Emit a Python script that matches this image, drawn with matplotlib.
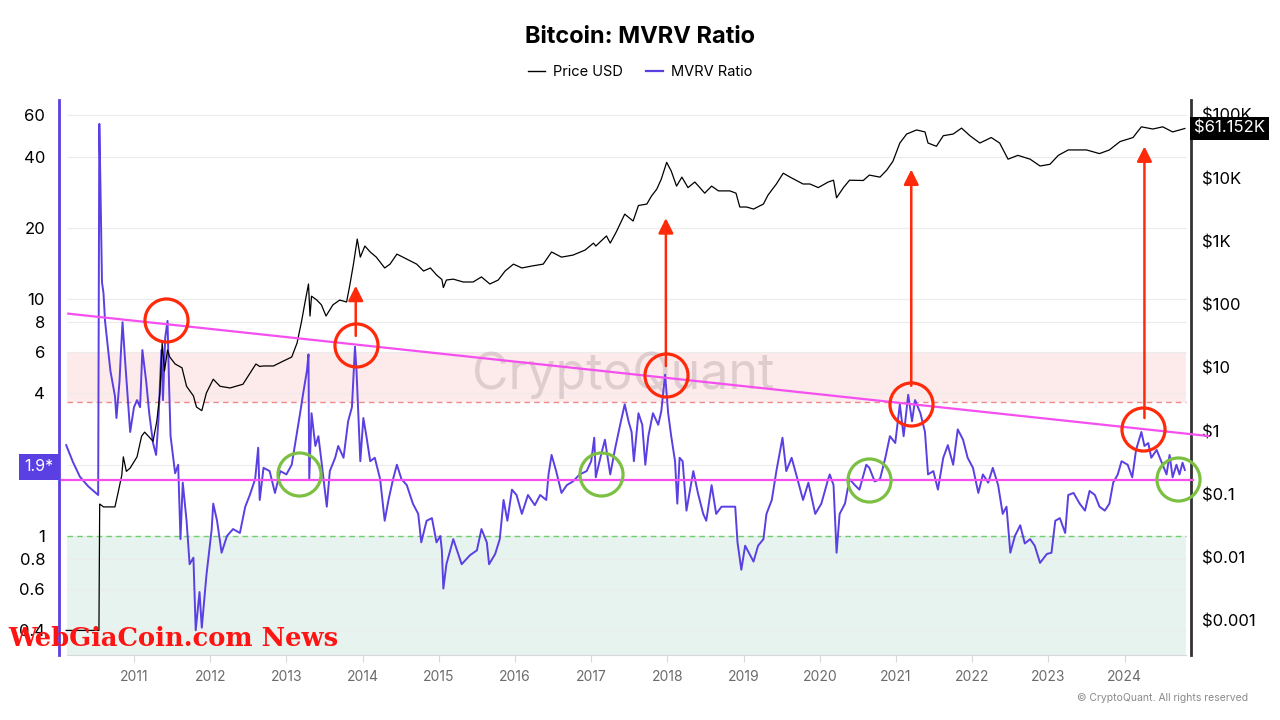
import matplotlib
matplotlib.use("Agg")
import matplotlib.pyplot as plt
from matplotlib.lines import Line2D

plt.rcParams['font.family'] = ['Inter', 'DejaVu Sans']

# MVRV ratio (decimal year, value)
mvrv_years = [
    2010.11, 2010.20, 2010.29, 2010.40, 2010.53, 2010.545, 2010.56, 2010.58, 2010.60, 2010.62,
    2010.69, 2010.75, 2010.77, 2010.81, 2010.83, 2010.85, 2010.88, 2010.93, 2010.95, 2011.00,
    2011.04, 2011.08, 2011.11, 2011.16, 2011.20, 2011.25, 2011.29, 2011.32, 2011.36, 2011.38,
    2011.41, 2011.44, 2011.46, 2011.48, 2011.54, 2011.58, 2011.61, 2011.64, 2011.69, 2011.73,
    2011.78, 2011.81, 2011.86, 2011.89, 2011.95, 2012.02, 2012.04, 2012.09, 2012.15, 2012.22,
    2012.30, 2012.39, 2012.46, 2012.52, 2012.59, 2012.63, 2012.65, 2012.70, 2012.78, 2012.85,
    2012.92, 2013.00, 2013.07, 2013.11, 2013.18, 2013.22, 2013.27, 2013.29, 2013.30, 2013.33,
    2013.38, 2013.42, 2013.46, 2013.53, 2013.57, 2013.64, 2013.68, 2013.75, 2013.81, 2013.86,
    2013.90, 2013.92, 2013.97, 2014.01, 2014.05, 2014.10, 2014.16, 2014.23, 2014.29, 2014.34,
    2014.40, 2014.45, 2014.51, 2014.58, 2014.66, 2014.73, 2014.77, 2014.84, 2014.91, 2014.97,
    2015.02, 2015.04, 2015.06, 2015.10, 2015.19, 2015.30, 2015.41, 2015.50, 2015.56, 2015.63,
    2015.66, 2015.74, 2015.80, 2015.85, 2015.90, 2015.96, 2016.02, 2016.09, 2016.17, 2016.26,
    2016.33, 2016.41, 2016.44, 2016.48, 2016.54, 2016.61, 2016.68, 2016.76, 2016.85, 2016.94,
    2017.00, 2017.04, 2017.06, 2017.12, 2017.18, 2017.25, 2017.31, 2017.38, 2017.44, 2017.49,
    2017.53, 2017.56, 2017.62, 2017.67, 2017.71, 2017.75, 2017.81, 2017.88, 2017.92, 2017.97,
    2018.01, 2018.05, 2018.10, 2018.13, 2018.16, 2018.20, 2018.25, 2018.34, 2018.40, 2018.47,
    2018.51, 2018.58, 2018.64, 2018.71, 2018.82, 2018.89, 2018.92, 2018.97, 2019.02, 2019.13,
    2019.19, 2019.26, 2019.30, 2019.37, 2019.43, 2019.51, 2019.56, 2019.63, 2019.69, 2019.78,
    2019.85, 2019.94, 2020.02, 2020.11, 2020.13, 2020.18, 2020.22, 2020.26, 2020.33, 2020.39,
    2020.46, 2020.52, 2020.61, 2020.65, 2020.72, 2020.79, 2020.86, 2020.92, 2020.99, 2021.05,
    2021.10, 2021.16, 2021.21, 2021.25, 2021.32, 2021.38, 2021.42, 2021.49, 2021.55, 2021.62,
    2021.68, 2021.75, 2021.81, 2021.88, 2021.94, 2022.01, 2022.08, 2022.14, 2022.21, 2022.27,
    2022.34, 2022.40, 2022.45, 2022.50, 2022.56, 2022.63, 2022.69, 2022.76, 2022.82, 2022.89,
    2022.98, 2023.04, 2023.09, 2023.15, 2023.22, 2023.26, 2023.33, 2023.41, 2023.48, 2023.54,
    2023.61, 2023.67, 2023.74, 2023.80, 2023.85, 2023.91, 2023.96, 2024.04, 2024.10, 2024.15,
    2024.22, 2024.26, 2024.31, 2024.35, 2024.42, 2024.48, 2024.55, 2024.59, 2024.63, 2024.68,
    2024.72, 2024.76, 2024.79,
]
mvrv_values = [
    2.42, 2.05, 1.78, 1.62, 1.49, 55.0, 30.0, 11.8, 10.6, 8.1,
    5.0, 3.9, 3.15, 4.5, 6.1, 8.0, 5.7, 3.37, 2.75, 3.5,
    3.75, 3.5, 6.1, 4.5, 3.3, 2.47, 2.2, 3.05, 6.1, 3.75,
    6.9, 8.1, 4.4, 2.64, 1.84, 2.0, 0.97, 1.68, 1.16, 0.76,
    0.81, 0.40, 0.58, 0.41, 0.68, 1.07, 1.37, 1.16, 0.85, 1.0,
    1.07, 1.03, 1.33, 1.49, 1.74, 2.36, 1.42, 1.94, 1.88, 1.52,
    1.88, 1.82, 2.0, 2.4, 3.3, 4.0, 5.0, 5.85, 1.74, 3.3,
    2.4, 2.64, 2.07, 1.33, 1.88, 2.14, 2.4, 2.14, 3.05, 3.5,
    6.3, 5.0, 2.07, 3.15, 2.64, 2.07, 2.14, 1.74, 1.16, 1.42,
    1.74, 2.0, 1.74, 1.64, 1.37, 1.24, 0.94, 1.16, 1.19, 0.94,
    1.0, 0.87, 0.60, 0.76, 0.97, 0.76, 0.83, 0.87, 1.07, 0.94,
    0.76, 0.84, 0.97, 1.42, 1.16, 1.57, 1.49, 1.24, 1.49, 1.35,
    1.49, 1.42, 1.82, 2.2, 1.88, 1.52, 1.64, 1.70, 1.82, 1.88,
    2.07, 2.6, 1.77, 2.14, 2.55, 1.82, 2.31, 2.95, 3.6, 3.05,
    2.75, 2.07, 3.3, 2.95, 2.0, 2.64, 3.3, 2.95, 3.37, 4.8,
    3.3, 2.64, 2.07, 1.37, 2.14, 2.07, 1.28, 1.88, 1.52, 1.24,
    1.16, 1.64, 1.24, 1.33, 1.33, 1.33, 0.94, 0.72, 0.91, 0.78,
    0.91, 0.97, 1.24, 1.42, 1.88, 2.6, 1.88, 2.14, 1.82, 1.42,
    1.68, 1.24, 1.37, 1.74, 1.82, 1.64, 0.85, 1.24, 1.37, 1.74,
    1.64, 1.57, 2.0, 1.94, 1.70, 1.74, 2.14, 2.64, 2.47, 3.6,
    2.64, 3.95, 3.05, 3.75, 3.3, 2.75, 1.82, 1.88, 1.57, 2.14,
    2.42, 2.0, 2.82, 2.55, 2.14, 1.94, 1.52, 1.82, 1.68, 1.94,
    1.64, 1.24, 1.33, 0.85, 1.0, 1.11, 0.93, 0.97, 0.91, 0.77,
    0.84, 0.85, 1.16, 1.19, 1.03, 1.49, 1.52, 1.37, 1.28, 1.55,
    1.49, 1.33, 1.28, 1.37, 1.68, 1.82, 2.07, 2.0, 1.77, 2.31,
    2.75, 2.4, 2.47, 2.14, 2.31, 2.07, 1.82, 2.2, 1.77, 2.0,
    1.82, 2.04, 1.9,
]

# BTC price in USD (decimal year, value)
price_years = [
    2010.11, 2010.54, 2010.55, 2010.60, 2010.75, 2010.79, 2010.84, 2010.86, 2010.90, 2010.95,
    2011.04, 2011.10, 2011.14, 2011.25, 2011.30, 2011.34, 2011.37, 2011.40, 2011.44, 2011.47,
    2011.54, 2011.63, 2011.69, 2011.78, 2011.82, 2011.89, 2011.95, 2012.04, 2012.13, 2012.26,
    2012.43, 2012.54, 2012.60, 2012.65, 2012.70, 2012.83, 2012.96, 2013.07, 2013.14, 2013.20,
    2013.24, 2013.29, 2013.31, 2013.33, 2013.40, 2013.46, 2013.52, 2013.61, 2013.70, 2013.79,
    2013.83, 2013.88, 2013.93, 2013.97, 2014.03, 2014.10, 2014.18, 2014.29, 2014.36, 2014.45,
    2014.58, 2014.71, 2014.80, 2014.89, 2014.97, 2015.04, 2015.06, 2015.10, 2015.19, 2015.32,
    2015.45, 2015.56, 2015.67, 2015.78, 2015.87, 2015.98, 2016.09, 2016.22, 2016.37, 2016.48,
    2016.61, 2016.76, 2016.92, 2017.03, 2017.06, 2017.20, 2017.25, 2017.33, 2017.44, 2017.55,
    2017.62, 2017.73, 2017.79, 2017.86, 2017.92, 2017.99, 2018.05, 2018.12, 2018.19, 2018.27,
    2018.36, 2018.49, 2018.58, 2018.67, 2018.82, 2018.90, 2018.95, 2019.04, 2019.13, 2019.26,
    2019.32, 2019.43, 2019.52, 2019.61, 2019.78, 2019.87, 2019.98, 2020.11, 2020.18, 2020.22,
    2020.31, 2020.39, 2020.57, 2020.65, 2020.79, 2020.88, 2020.96, 2021.05, 2021.14, 2021.27,
    2021.38, 2021.42, 2021.53, 2021.62, 2021.75, 2021.86, 2021.97, 2022.10, 2022.25, 2022.36,
    2022.47, 2022.60, 2022.76, 2022.89, 2023.02, 2023.13, 2023.26, 2023.50, 2023.67, 2023.80,
    2023.94, 2024.11, 2024.22, 2024.37, 2024.50, 2024.63, 2024.79,
]
price_values = [
    0.0007, 0.0007, 0.07, 0.063, 0.063, 0.104, 0.2, 0.39, 0.23, 0.26,
    0.39, 0.83, 0.96, 0.69, 1.44, 4.0, 24.7, 8.9, 19.1, 14.8,
    11.5, 10.0, 5.1, 3.6, 2.4, 2.1, 4.0, 6.6, 5.1, 4.8,
    5.5, 8.9, 11.5, 10.5, 10.7, 10.7, 12.8, 14.8, 24.7, 55,
    102, 212, 66, 136, 118, 99, 66, 99, 118, 110,
    196, 437, 1090, 564, 845, 680, 564, 380, 437, 630,
    525, 437, 340, 380, 295, 250, 186, 245, 253, 228,
    228, 274, 212, 245, 340, 437, 380, 408, 437, 680,
    564, 607, 730, 940, 845, 1220, 940, 1420, 2700, 2100,
    3700, 3900, 5200, 6700, 9700, 17800, 13000, 7500, 10400, 7100,
    8700, 5800, 7500, 6300, 6300, 5800, 3500, 3500, 3250, 3900,
    5400, 8100, 12000, 10400, 8100, 8100, 7100, 8700, 9300, 4900,
    7100, 9300, 9200, 11200, 10400, 13500, 18600, 36000, 50000, 58000,
    54000, 36000, 32000, 47000, 50000, 62000, 47000, 36000, 44000, 36000,
    20000, 23000, 20000, 15600, 16600, 23000, 28000, 28000, 24500, 28000,
    38000, 44000, 65000, 60000, 65000, 54000, 61152,
]

year_ticks = list(range(2011, 2025))
mvrv_ticks = [0.4, 0.6, 0.8, 1, 2, 4, 6, 8, 10, 20, 40, 60]
mvrv_tick_labels = ['0.4', '0.6', '0.8', '1', '2', '4', '6', '8', '10', '20', '40', '60']
price_ticks = [0.001, 0.01, 0.1, 1, 10, 100, 1000, 10000, 100000]
price_tick_labels = ['$0.001', '$0.01', '$0.1', '$1', '$10', '$100', '$1K', '$10K', '$100K']

# annotations drawn on top of the chart (year, mvrv)
red_circles_x = [2011.42, 2013.91, 2017.98, 2021.20, 2024.245]
red_circles_y = [8.2, 6.38, 4.79, 3.62, 2.82]
green_circles_x = [2013.165, 2017.133, 2020.65, 2024.70]
green_circles_y = [1.83, 1.83, 1.73, 1.74]
arrow_x = [2013.91, 2017.98, 2021.20, 2024.26]
arrow_from = [7.0, 5.22, 4.31, 3.15]
arrow_to = [11.4, 22.0, 35.3, 44.2]

PURPLE = '#5a3fe3'
PINK = '#f54ff0'
RED = '#ff2a0a'
GREEN = '#7cc043'

fig = plt.figure(figsize=(12.8, 7.2), dpi=100)
ax = fig.add_axes([59 / 1280, 65 / 720, 1132 / 1280, 555 / 720])
ax.set_xlim(2010.016, 2024.871)
ax.set_yscale('log')
ax.set_ylim(0.3144, 69.4)

x0, x1 = 2010.12, 2024.806

# zones and grid
ax.fill_between([x0, x1], 3.69, 6.0, color='#fdeaea', lw=0, zorder=0)
ax.fill_between([x0, x1], 0.3144, 1.0, color='#e7f3ee', lw=0, zorder=0)
ax.hlines(mvrv_ticks, x0, x1, color='#ececec', lw=0.8, zorder=0.5)
ax.hlines(3.69, x0, x1, color='#f08a8a', lw=1, ls=(0, (4, 3)), zorder=1)
ax.hlines(1.0, x0, x1, color='#6fcf6f', lw=1, ls=(0, (4, 3)), zorder=1)

ax.text(2017.42, 4.79, 'CryptoQuant', fontsize=36, color='#b9a8b0', alpha=0.45,
        ha='center', va='center', zorder=1)

ax.plot(mvrv_years, mvrv_values, color=PURPLE, lw=1.4, zorder=3)

ax.set_yticks(mvrv_ticks)
ax.set_yticklabels(mvrv_tick_labels)
ax.yaxis.set_minor_locator(matplotlib.ticker.NullLocator())
ax.tick_params(axis='y', length=0, labelsize=12, pad=10, colors='black')
ax.set_xticks(year_ticks)
ax.set_xticklabels([str(y) for y in year_ticks])
ax.tick_params(axis='x', length=5, color='#d5d9de', labelsize=10, labelcolor='#6b6b6b', pad=6)

for s in ['top', 'right']:
    ax.spines[s].set_visible(False)
ax.spines['left'].set_color(PURPLE)
ax.spines['left'].set_linewidth(2)
ax.spines['bottom'].set_color('#d5d9de')
ax.spines['bottom'].set_bounds(x0, x1)

# price axis
ax2 = ax.twinx()
ax2.set_yscale('log')
ax2.set_ylim(0.000286, 172700)
ax2.plot(price_years, price_values, color='black', lw=0.9, zorder=2)
ax2.set_yticks(price_ticks)
ax2.set_yticklabels(price_tick_labels)
ax2.yaxis.set_minor_locator(matplotlib.ticker.NullLocator())
ax2.tick_params(axis='y', length=0, labelsize=12, pad=8)
for s in ['top', 'left', 'bottom']:
    ax2.spines[s].set_visible(False)
ax2.spines['right'].set_color('#333333')
ax2.spines['right'].set_linewidth(2)

# hand drawn markup, in MVRV coordinates
tr = ax.transData
ax2.plot([2010.138, 2025.098], [8.69, 2.644], color=PINK, lw=1.6, transform=tr,
         clip_on=False, zorder=4)
ax2.plot([2010.051, 2024.90], [1.73, 1.73], color=PINK, lw=1.6, transform=tr,
         clip_on=False, zorder=4)
ax2.plot(red_circles_x, red_circles_y, ls='none', marker='o', ms=31, mfc='none',
         mec=RED, mew=2.3, transform=tr, zorder=5)
ax2.plot(green_circles_x, green_circles_y, ls='none', marker='o', ms=31, mfc='none',
         mec=GREEN, mew=2.3, transform=tr, zorder=5, clip_on=False)
for xa, ya, yb in zip(arrow_x, arrow_from, arrow_to):
    ax2.annotate('', xy=(xa, yb), xytext=(xa, ya), xycoords=tr, textcoords=tr,
                 arrowprops=dict(arrowstyle='-|>,head_length=0.6,head_width=0.3',
                                 color=RED, lw=1.8, mutation_scale=15,
                                 shrinkA=0, shrinkB=0), zorder=6)

# last value labels
ax2.annotate('1.9*', xy=(0, 1.96), xycoords=('axes fraction', tr), xytext=(-4, 0),
             textcoords='offset points', ha='right', va='center', color='white',
             fontsize=11.5, zorder=10,
             bbox=dict(boxstyle='square,pad=0.35', fc=PURPLE, ec='none'))
ax2.annotate('$61.152K', xy=(1, 61152), xycoords=('axes fraction', 'data'),
             xytext=(2, 0), textcoords='offset points', ha='left', va='center',
             color='white', fontsize=12, zorder=10,
             bbox=dict(boxstyle='square,pad=0.25', fc='black', ec='none'))

fig.suptitle('Bitcoin: MVRV Ratio', y=0.9486, va='center', fontsize=17, fontweight='bold')
handles = [Line2D([], [], color='black', lw=1), Line2D([], [], color=PURPLE, lw=1.6)]
fig.legend(handles, ['Price USD', 'MVRV Ratio'], loc='center', bbox_to_anchor=(0.5, 0.9),
           ncol=2, frameon=False, fontsize=10.5, handlelength=1.2, columnspacing=1.6,
           handletextpad=0.5)

fig.text(8 / 1280, 1 - 638 / 720, 'WebGiaCoin.com News', color='#ff1414', fontsize=18.5,
         fontweight='bold', family='DejaVu Serif', va='center', ha='left')
fig.text(1248 / 1280, 1 - 698 / 720, '© CryptoQuant. All rights reserved', color='#8a8a8a',
         fontsize=7.5, ha='right', va='center')

fig.savefig('out.png', dpi=100)
